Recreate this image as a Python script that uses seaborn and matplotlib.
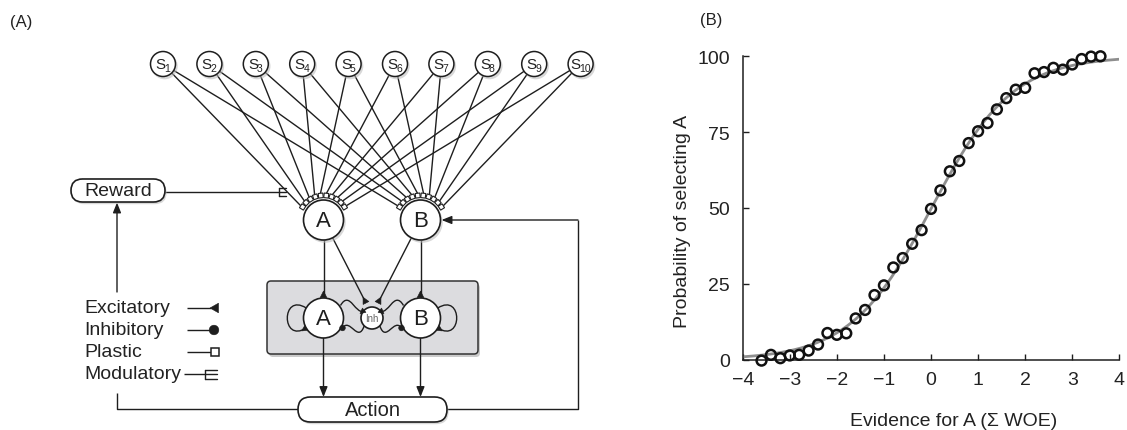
import numpy as np
import matplotlib
matplotlib.use("Agg")
import matplotlib.pyplot as plt
import seaborn as sns
from matplotlib.patches import Circle, FancyBboxPatch, Polygon, PathPatch
from matplotlib.path import Path

# ---------------- data (panel B) ----------------
evidence_woe = [-3.6, -3.4, -3.2, -3.0, -2.8, -2.6, -2.4, -2.2, -2.0, -1.8,
                -1.6, -1.4, -1.2, -1.0, -0.8, -0.6, -0.4, -0.2, 0.0, 0.2,
                0.4, 0.6, 0.8, 1.0, 1.2, 1.4, 1.6, 1.8, 2.0, 2.2,
                2.4, 2.6, 2.8, 3.0, 3.2, 3.4, 3.6]
prob_select_A = [-0.3, 1.6, 0.5, 1.4, 1.6, 3.0, 5.0, 8.8, 8.2, 8.7,
                 13.6, 16.4, 21.3, 24.5, 30.4, 33.5, 38.2, 42.7, 49.7, 55.8,
                 62.1, 65.5, 71.4, 75.3, 78.0, 82.5, 86.2, 89.0, 89.6, 94.4,
                 94.8, 96.2, 95.6, 97.3, 99.1, 99.9, 100.0]
x_ticks = [-4, -3, -2, -1, 0, 1, 2, 3, 4]
y_ticks = [0, 25, 50, 75, 100]
x_label = "Evidence for A (\u03a3 WOE)"
y_label = "Probability of selecting A"

# ---------------- labels (panel A) ----------------
stimulus_subscripts = ["1", "2", "3", "4", "5", "6", "7", "8", "9", "10"]
response_labels = ["A", "B"]
legend_labels = ["Excitatory", "Inhibitory", "Plastic", "Modulatory"]
box_labels = ["Reward", "Action"]
inh_label = "Inh"

W, H = 1127, 431
sns.set_theme(style="ticks")
plt.rcParams["font.family"] = ["Liberation Sans", "DejaVu Sans"]
fig = plt.figure(figsize=(W / 100, H / 100), dpi=100)

INK = "#1e1e1e"
LW = 1.0

# =================== Panel B ===================
axB = fig.add_axes([742.7 / W, 1 - 360.7 / H, 376.6 / W, 303.4 / H])

xa = np.asarray(evidence_woe, float)
ya = np.asarray(prob_select_A, float)
# least-squares logistic fit to the data (grid search)
ks = np.linspace(0.5, 2.0, 301)[:, None, None]
x0s = np.linspace(-0.5, 0.5, 201)[None, :, None]
pred = 100.0 / (1.0 + np.exp(-ks * (xa[None, None, :] - x0s)))
sse = ((pred - ya) ** 2).sum(-1)
i, j = np.unravel_index(sse.argmin(), sse.shape)
k_fit, x0_fit = ks[i, 0, 0], x0s[0, j, 0]
xfit = np.linspace(x_ticks[0], x_ticks[-1], 300)
yfit = 100.0 / (1.0 + np.exp(-k_fit * (xfit - x0_fit)))

sns.lineplot(x=xfit, y=yfit, ax=axB, color="#8e8e8e", linewidth=2.0, zorder=2)
sns.scatterplot(x=xa, y=ya, ax=axB, s=50, marker="o", facecolor="none",
                edgecolor="#111111", linewidth=1.8, zorder=3, clip_on=False)

axB.set_xlim(x_ticks[0], x_ticks[-1])
axB.set_ylim(y_ticks[0], y_ticks[-1])
axB.set_xticks(x_ticks)
axB.set_yticks(y_ticks)
axB.tick_params(direction="in", length=4, width=1.0, color=INK,
                labelsize=14, labelcolor="#222222")
axB.tick_params(axis="x", pad=8)
axB.tick_params(axis="y", pad=9)
sns.despine(ax=axB)
for sp in ("left", "bottom"):
    axB.spines[sp].set_linewidth(1.1)
    axB.spines[sp].set_color(INK)
axB.set_xlabel(x_label, fontsize=14, color="#222222")
axB.set_ylabel(y_label, fontsize=14, color="#222222")
axB.xaxis.set_label_coords(0.561, -0.172)
axB.yaxis.set_label_coords(-0.137, 0.46)
axB.grid(False)
axB.set_facecolor("white")

fig.text(700 / W, 1 - 21 / H, "(B)", fontsize=12, va="center", ha="left", color="#222222")

# =================== Panel A ===================
axA = fig.add_axes([0, 0, 676 / W, 1])
axA.set_xlim(0, 676)
axA.set_ylim(431, 0)
axA.axis("off")

fig.text(10 / W, 1 - 22 / H, "(A)", fontsize=12, va="center", ha="left", color="#222222")


def unit(v):
    v = np.asarray(v, float)
    return v / np.linalg.norm(v)


def line(pts, z=2):
    pts = np.asarray(pts, float)
    axA.plot(pts[:, 0], pts[:, 1], color=INK, lw=LW, zorder=z, solid_capstyle="butt")


def arrow(p0, p1, z=3):
    axA.annotate("", xy=p1, xytext=p0,
                 arrowprops=dict(arrowstyle="-|>,head_length=0.55,head_width=0.22",
                                 color=INK, lw=LW, shrinkA=0, shrinkB=0,
                                 mutation_scale=11), zorder=z)


def exc(end, d, L=6.5, w=3.3, z=6):
    d = unit(d)
    n = np.array([-d[1], d[0]])
    E = np.asarray(end, float)
    axA.add_patch(Polygon([E + n * w, E - n * w, E - d * L], closed=True,
                          fc=INK, ec=INK, lw=0.4, zorder=z))


def inh(c, r=2.8, z=6):
    axA.add_patch(Circle(c, r, fc=INK, ec=INK, lw=0.4, zorder=z))


def square(c, u, s, z=6, lw=0.8):
    c = np.asarray(c, float)
    u = unit(u)
    v = np.array([-u[1], u[0]])
    h = s / 2
    pts = [c + u * h + v * h, c + u * h - v * h, c - u * h - v * h, c - u * h + v * h]
    axA.add_patch(Polygon(pts, closed=True, fc="white", ec=INK, lw=lw, zorder=z))


def modulatory(x, y, h=4, L=8, z=6):
    axA.plot([x, x], [y - h, y + h], color=INK, lw=LW, zorder=z)
    for yy in (y - h, y, y + h):
        axA.plot([x, x + L], [yy, yy], color=INK, lw=LW, zorder=z)


def node(cx, cy, r, label=None, fs=16, z=5, lw=1.2, tcolor=INK, shadow=True):
    if shadow:
        axA.add_patch(Circle((cx + 1.6, cy + 2.2), r + 0.6, fc="#b9b9b9", ec="none",
                             alpha=0.55, zorder=z - 0.2))
    axA.add_patch(Circle((cx, cy), r, fc="white", ec=INK, lw=lw, zorder=z))
    if label is not None:
        axA.text(cx, cy + 0.5, label, ha="center", va="center", fontsize=fs,
                 color=tcolor, zorder=z + 0.5)


def pill(cx, cy, w, h, label, fs=14, z=5):
    axA.add_patch(FancyBboxPatch((cx - (w - h) / 2 + 1.6, cy - 0.01 + 2.2), w - h, 0.02,
                                 boxstyle=f"round,pad={h / 2}", fc="#b9b9b9", ec="none",
                                 alpha=0.55, zorder=z - 0.2))
    axA.add_patch(FancyBboxPatch((cx - (w - h) / 2, cy - 0.01), w - h, 0.02,
                                 boxstyle=f"round,pad={h / 2}", fc="white", ec=INK,
                                 lw=1.2, zorder=z))
    axA.text(cx, cy + 0.5, label, ha="center", va="center", fontsize=fs,
             color="#222222", zorder=z + 0.5)


# layout
S_y, S_r, S_x0, S_dx = 65.0, 12.5, 163.0, 46.4
top_y, r_top = 221.0, 20.0
A_x, B_x, Inh_x = 323.5, 420.5, 372.0
in_y, r_in, r_inh = 319.0, 20.0, 11.0
R_arc, sq = r_top + 4.6, 4.6
arc_angles = np.radians(np.linspace(148, 32, len(stimulus_subscripts)))

# stimulus -> response connections with plastic synapses
for xc in (A_x, B_x):
    for k, ang in enumerate(arc_angles):
        u = np.array([np.cos(ang), -np.sin(ang)])
        c = np.array([xc, top_y]) + u * R_arc
        square(c, u, sq)
        sx = S_x0 + k * S_dx
        end = c + u * sq / 2
        start = np.array([sx, S_y]) + S_r * unit(end - np.array([sx, S_y]))
        line([start, end], z=2)

# stimulus nodes
for k, sub in enumerate(stimulus_subscripts):
    sx = S_x0 + k * S_dx
    node(sx, S_y, S_r, shadow=True, lw=1.1)
    s_pos = sx - 2.5 - 2.2 * (len(sub) - 1)
    axA.text(s_pos, S_y, "S", ha="center", va="center", fontsize=11, color="#222222", zorder=6)
    axA.text(s_pos + 3.6, S_y + 4, sub, ha="left", va="center", fontsize=7.5,
             color="#222222", zorder=6)

# top response nodes
node(A_x, top_y, r_top, response_labels[0])
node(B_x, top_y, r_top, response_labels[1])

# Reward box with modulatory input
pill(118, 191.5, 94, 23, box_labels[0], fs=14)
line([(165, 192.5), (279, 192.5)])
modulatory(279, 192.5, h=4, L=7)

# gray competition box
axA.add_patch(FancyBboxPatch((269, 285), 211, 73, boxstyle="round,pad=0,rounding_size=4",
                             fc="#a9a9a9", ec="none", alpha=0.6, zorder=0.8))
axA.add_patch(FancyBboxPatch((267, 282), 211, 73, boxstyle="round,pad=0,rounding_size=4",
                             fc="#dcdcdf", ec="#333333", lw=1.1, zorder=1))

# inner nodes
node(A_x, in_y, r_in, response_labels[0], shadow=False)
node(B_x, in_y, r_in, response_labels[1], shadow=False)
node(Inh_x, in_y, r_inh, inh_label, fs=7, tcolor="#666666", shadow=False)

# top -> inner (excitatory)
for xc in (A_x, B_x):
    line([(xc, top_y + r_top), (xc, in_y - r_in - 0.5)])
    exc((xc, in_y - r_in - 0.5), (0, 1))

# top -> Inh (excitatory)
for xc, ex in ((A_x, Inh_x - 6), (B_x, Inh_x + 6)):
    end = np.array([ex, 304.0])
    c = np.array([xc, top_y])
    start = c + r_top * unit(end - c)
    line([start, end])
    exc(end, end - start)

# wavy local connections (mirror for B side)
def mx(p, side):
    return (p[0] if side == 0 else 2 * Inh_x - p[0], p[1])

for side in (0, 1):
    # excitatory: neuron -> Inh (top wave)
    P = [mx(p, side) for p in [(340.5, 306.5), (350, 290), (356, 318), (364.2, 311.2)]]
    axA.add_patch(PathPatch(Path(P, [Path.MOVETO, Path.CURVE4, Path.CURVE4, Path.CURVE4]),
                            fc="none", ec=INK, lw=LW, zorder=3))
    exc(P[3], np.subtract(P[3], P[2]), L=5.5, w=2.8)
    # inhibitory: Inh -> neuron (bottom wave)
    P = [mx(p, side) for p in [(364.2, 326.8), (358, 345), (350, 318), (342.5, 329)]]
    axA.add_patch(PathPatch(Path(P, [Path.MOVETO, Path.CURVE4, Path.CURVE4, Path.CURVE4]),
                            fc="none", ec=INK, lw=LW, zorder=3))
    inh(P[3], r=2.8)
    # self-excitation loop
    P = [mx(p, side) for p in [(306.2, 309), (281, 293), (281, 345), (306.2, 329)]]
    axA.add_patch(PathPatch(Path(P, [Path.MOVETO, Path.CURVE4, Path.CURVE4, Path.CURVE4]),
                            fc="none", ec=INK, lw=LW, zorder=3))
    exc(P[3], np.subtract(P[3], P[2]), L=5.5, w=2.8)

# Action box
pill(372.5, 410.5, 149, 25, box_labels[1], fs=14.5)
for xc in (A_x, B_x):
    arrow((xc, in_y + r_in), (xc, 398))

# Action -> Reward (feedback, broken by legend)
line([(298, 410.5), (117, 410.5), (117, 394)])
arrow((117, 293), (117, 203.5))

# Action -> B (feedback)
line([(447, 410.5), (578, 410.5), (578, top_y)], z=2)
arrow((578, top_y), (B_x + r_top + 1, top_y))

# legend
leg_y = [309, 331, 353, 375]
for lab, yy in zip(legend_labels, leg_y):
    axA.text(84, yy, lab, ha="left", va="center", fontsize=14, color="#222222")
line([(187, leg_y[0]), (211, leg_y[0])])
exc((218.5, leg_y[0]), (1, 0), L=8.5, w=4.8)
line([(187, leg_y[1]), (210, leg_y[1])])
inh((214, leg_y[1]), r=4.8)
line([(187, leg_y[2]), (210.5, leg_y[2])])
square((214.5, leg_y[2]), (1, 0), 8, lw=1.1)
line([(184, leg_y[3]), (205, leg_y[3])])
modulatory(205, leg_y[3], h=4.5, L=12)

fig.savefig("out.png", dpi=100, facecolor="white")
